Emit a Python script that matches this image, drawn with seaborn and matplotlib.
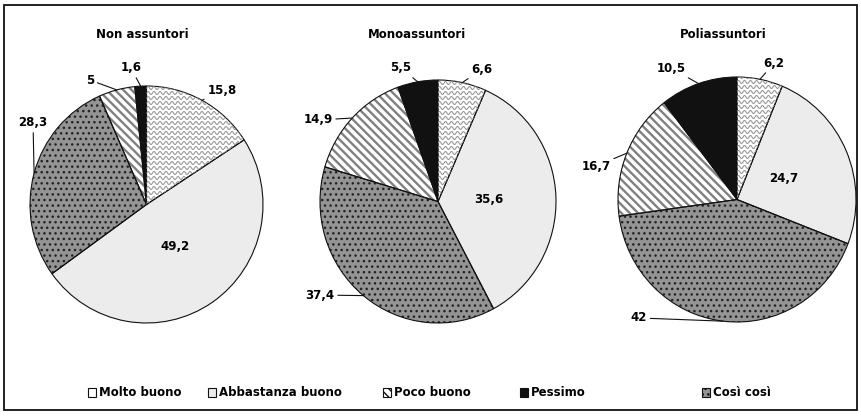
import numpy as np
import matplotlib
matplotlib.use("Agg")
import matplotlib.pyplot as plt
import seaborn as sns
from matplotlib.patches import Patch, Rectangle
from matplotlib.collections import LineCollection

sns.set_theme(style="white")
plt.rcParams['font.family'] = ['DejaVu Sans']
plt.rcParams['font.weight'] = 'bold'
plt.rcParams['text.color'] = 'black'

# %% data
groups = ["Non assuntori", "Monoassuntori", "Poliassuntori"]
categories = ["Molto buono", "Abbastanza buono", "Così così", "Poco buono", "Pessimo"]
non_assuntori = [15.8, 49.2, 28.3, 5.0, 1.6]
monoassuntori = [6.6, 35.6, 37.4, 14.9, 5.5]
poliassuntori = [6.2, 24.7, 42.0, 16.7, 10.5]
legend_order = ["Molto buono", "Abbastanza buono", "Poco buono", "Pessimo", "Così così"]

# %% styles / layout
W, H = 862, 416
styles = {
    "Molto buono": dict(face="white", hatch=None, hcol="white", hlw=1.0),
    "Abbastanza buono": dict(face="#ececec", hatch=None, hcol="#ececec", hlw=1.0),
    "Così così": dict(face="#949494", hatch="...", hcol="#222222", hlw=1.0),
    "Poco buono": dict(face="white", hatch="\\\\\\\\", hcol="#808080", hlw=1.7),
    "Pessimo": dict(face="#111111", hatch=None, hcol="#111111", hlw=1.0),
}
# pie bounding boxes in pixels: x0, x1, ytop, ybottom
pie_boxes = [(30, 263, 86, 323), (320, 556, 80, 323), (618, 856, 77, 322)]
title_x = [142, 417, 723]
# label positions (pie units) for the outside labels, keyed by category index
label_pos = [
    {0: (0.648, 0.966), 2: (-0.974, 0.688), 3: (-0.485, 1.05), 4: (-0.133, 1.152)},
    {0: (0.373, 1.09), 2: (-1.0, -0.77), 3: (-1.017, 0.671), 4: (-0.314, 1.099)},
    {0: (0.311, 1.114), 2: (-0.824, -0.967), 3: (-1.185, 0.273), 4: (-0.555, 1.073)},
]
legend_x = [88, 208, 383, 520, 702]


def fmt(v):
    return f"{v:g}".replace(".", ",")


def set_hlw(p, lw):
    if hasattr(p, "set_hatch_linewidth"):
        p.set_hatch_linewidth(lw)
    else:
        p._hatch_linewidth = lw


def wavy(ax, wedge, rx, ry):
    xs = np.linspace(-1, 1, 900)
    segs = []
    for y0 in np.arange(-1, 1, 5.0 / ry):
        ys = y0 + (1.5 / ry) * np.sin(2 * np.pi * xs * rx / 6.0)
        segs.append(np.column_stack([xs, ys]))
    lc = LineCollection(segs, colors="#999999", linewidths=0.8)
    ax.add_collection(lc)
    lc.set_clip_path(wedge)


fig = plt.figure(figsize=(W / 100, H / 100), dpi=100)
fig.patch.set_facecolor("white")

for g, vals, box, tx, lpos in zip(groups, [non_assuntori, monoassuntori, poliassuntori],
                                   pie_boxes, title_x, label_pos):
    x0, x1, yt, yb = box
    ax = fig.add_axes([x0 / W, 1 - yb / H, (x1 - x0) / W, (yb - yt) / H])
    rx, ry = (x1 - x0) / 2, (yb - yt) / 2
    cols = [styles[c]["face"] for c in categories]
    wedges, _ = ax.pie(vals, colors=cols, startangle=90, counterclock=False,
                       radius=1, wedgeprops=dict(linewidth=0))
    for w, c in zip(wedges, categories):
        st = styles[c]
        w.set_edgecolor(st["hcol"])
        if st["hatch"]:
            w.set_hatch(st["hatch"])
            set_hlw(w, st["hlw"])
    wavy(ax, wedges[0], rx, ry)
    outline, _ = ax.pie(vals, startangle=90, counterclock=False, radius=1,
                        wedgeprops=dict(fill=False, edgecolor="#111111", linewidth=0.8))
    ax.set_aspect("auto")
    ax.set_xlim(-1, 1)
    ax.set_ylim(-1, 1)
    ax.axis("off")

    for i, (w, v) in enumerate(zip(wedges, vals)):
        mid = np.deg2rad((w.theta1 + w.theta2) / 2)
        if i == 1:
            ax.text(0.43 * np.cos(mid), 0.43 * np.sin(mid), fmt(v), ha="center",
                    va="center", fontsize=8.5, fontweight="bold")
        else:
            ax.annotate(fmt(v), xy=(np.cos(mid), np.sin(mid)), xytext=lpos[i],
                        ha="center", va="center", fontsize=8.5, fontweight="bold",
                        annotation_clip=False,
                        arrowprops=dict(arrowstyle="-", color="#111111", lw=0.8,
                                        shrinkA=0, shrinkB=0))

    fig.text(tx / W, 1 - 34 / H, g, ha="center", va="center", fontsize=8.5,
             fontweight="bold")

# legend, one entry at a time
for c, lx in zip(legend_order, legend_x):
    st = styles[c]
    h = Patch(facecolor=st["face"], edgecolor="#111111", hatch=st["hatch"], linewidth=0.8)
    fig.legend(handles=[h], labels=[c], loc="center left",
               bbox_to_anchor=(lx / W, 1 - 393 / H), frameon=False,
               handlelength=0.7, handleheight=0.7, handletextpad=0.25,
               borderpad=0, borderaxespad=0,
               prop=dict(size=8.5, weight="bold"))

fig.patches.append(Rectangle((4 / W, 1 - 410 / H), 853 / W, 405 / H,
                             transform=fig.transFigure, fill=False,
                             edgecolor="#111111", linewidth=1.3))

fig.savefig("out.png", dpi=100)
